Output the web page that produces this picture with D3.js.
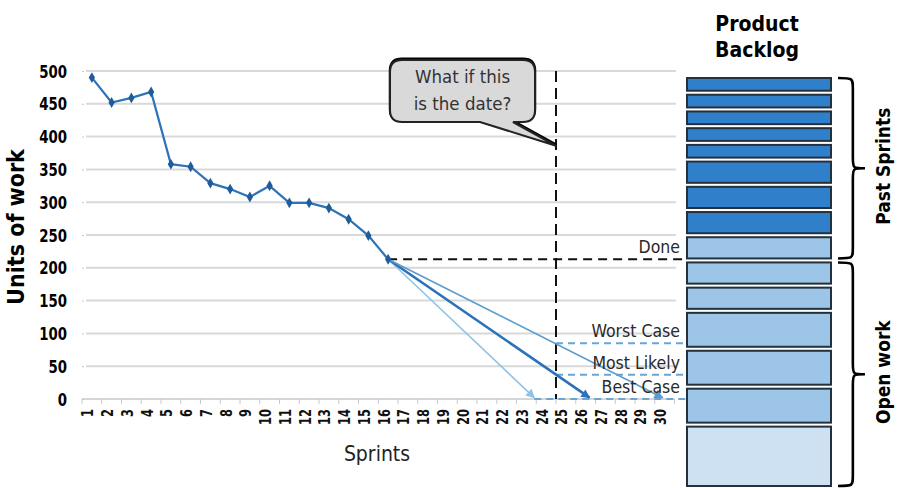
<!DOCTYPE html>
<html>
<head>
<meta charset="utf-8">
<script src="https://cdn.jsdelivr.net/npm/d3@7/dist/d3.min.js"></script>
<style>
  html, body { margin: 0; padding: 0; background: #fff; }
  svg { display: block; }
</style>
</head>
<body>
<svg id="chart" width="903" height="488"></svg>
<script>
// ---- data ----
const sprints = d3.range(1, 31);
const burndown = [490, 452, 459, 468, 358, 354, 329, 320, 308, 325, 299, 299, 291, 274, 249, 213];
const yTicks = [0, 50, 100, 150, 200, 250, 300, 350, 400, 450, 500];

// forecasts start from the last completed sprint
const forecastNames = ["Best Case", "Most Likely", "Worst Case"];
const forecastEndSprint = [23.4, 26.2, 29.9];
const forecastEndValue = [2, 2, 2];
const forecastAtDate = [0, 37, 85];
const targetSprint = 24.5;
const calloutLines = ["What if this", "is the date?"];

// product backlog items (story points) and their state
const backlogPoints = [3, 3, 3, 3, 3, 5, 5, 5, 5, 5, 5, 8, 8, 8, 14];
const backlogState = ["past", "past", "past", "past", "past", "past", "past", "past",
                      "done", "open", "open", "open", "open", "open", "future"];
const backlogGroups = [
  { name: "Past Sprints", first: 0, last: 8 },
  { name: "Open work", first: 9, last: 14 }
];

// ---- styling ----
const cond = "'DejaVu Sans Condensed', 'Liberation Sans Narrow', sans-serif";
const forecastColor = { "Best Case": "#8fc3e6", "Most Likely": "#2c72b8", "Worst Case": "#5a9bcb" };
const forecastWidth = { "Best Case": 1.6, "Most Likely": 2.6, "Worst Case": 1.6 };
const boxFill = { past: "#2f7fca", done: "#9cc5e7", open: "#9cc5e7", future: "#cde1f2" };

const svg = d3.select("#chart");

const x = d3.scaleLinear().domain([0.5, 30.5]).range([82, 674.5]);
const y = d3.scaleLinear().domain([0, 500]).range([399, 71]);

// ---- grid ----
svg.append("g")
  .selectAll("line")
  .data(yTicks.filter(d => d > 0))
  .join("line")
  .attr("x1", 86).attr("x2", 676)
  .attr("y1", d => y(d)).attr("y2", d => y(d))
  .attr("stroke", "#d9d9d9").attr("stroke-width", 2);

// ---- y axis (narrowed bold labels) ----
const yAxis = svg.append("g")
  .attr("transform", `translate(84,0)`)
  .call(d3.axisLeft(y).tickValues(yTicks).tickSize(2).tickFormat(""))
  .call(g => g.select(".domain").remove());
yAxis.selectAll(".tick line").attr("stroke", "#c8c8c8");
svg.append("g")
  .selectAll("text")
  .data(yTicks)
  .join("text")
  .attr("transform", d => `translate(67,${y(d)}) scale(0.8,1)`)
  .attr("text-anchor", "end").attr("dy", "0.36em")
  .attr("font-family", cond).attr("font-weight", "bold")
  .attr("font-size", 18.5).attr("fill", "#000")
  .text(d => d);

svg.append("text")
  .attr("transform", `translate(24,227) rotate(-90)`)
  .attr("text-anchor", "middle")
  .attr("font-family", cond).attr("font-weight", "bold")
  .attr("font-size", 23).attr("fill", "#000")
  .text("Units of work");

// ---- x axis ----
svg.append("line")
  .attr("x1", x(0.5)).attr("x2", x(30.5))
  .attr("y1", y(0)).attr("y2", y(0))
  .attr("stroke", "#c8c8c8").attr("stroke-width", 1.5);
svg.append("g")
  .selectAll("line")
  .data(d3.range(0.5, 31, 1))
  .join("line")
  .attr("x1", d => x(d)).attr("x2", d => x(d))
  .attr("y1", y(0)).attr("y2", y(0) + 5)
  .attr("stroke", "#c8c8c8").attr("stroke-width", 1);
svg.append("g")
  .selectAll("text")
  .data(sprints)
  .join("text")
  .attr("transform", d => `translate(${x(d) - 4},${y(0) + 10}) rotate(-90) scale(0.85,1.05)`)
  .attr("text-anchor", "end")
  .attr("dy", "0.35em")
  .attr("font-family", cond).attr("font-weight", "bold")
  .attr("font-size", 15).attr("fill", "#111")
  .text(d => d);

svg.append("text")
  .attr("x", 377).attr("y", 461)
  .attr("text-anchor", "middle")
  .attr("font-family", cond).attr("font-size", 21).attr("fill", "#222")
  .text("Sprints");

// ---- target date ----
svg.append("line")
  .attr("x1", x(targetSprint)).attr("x2", x(targetSprint))
  .attr("y1", y(500)).attr("y2", y(0))
  .attr("stroke", "#111").attr("stroke-width", 2)
  .attr("stroke-dasharray", "11,6");

// ---- done level ----
const lastSprint = burndown.length;
const lastValue = burndown[lastSprint - 1];
svg.append("line")
  .attr("x1", x(lastSprint)).attr("x2", 686)
  .attr("y1", y(lastValue)).attr("y2", y(lastValue))
  .attr("stroke", "#111").attr("stroke-width", 2)
  .attr("stroke-dasharray", "9,6");

// ---- forecast levels at target date ----
forecastNames.forEach((name, i) => {
  const startX = forecastAtDate[i] === 0 ? x(forecastEndSprint[i]) : x(targetSprint);
  svg.append("line")
    .attr("x1", startX).attr("x2", 686)
    .attr("y1", y(forecastAtDate[i])).attr("y2", y(forecastAtDate[i]))
    .attr("stroke", "#6aa5d6").attr("stroke-width", 1.8)
    .attr("stroke-dasharray", "7,5");
});

// ---- forecast arrows ----
const defs = svg.append("defs");
forecastNames.forEach((name, i) => {
  defs.append("marker")
    .attr("id", "arrow" + i)
    .attr("viewBox", "0 0 10 10")
    .attr("refX", 9).attr("refY", 5)
    .attr("markerWidth", 11).attr("markerHeight", 9)
    .attr("markerUnits", "userSpaceOnUse")
    .attr("orient", "auto")
    .append("path")
    .attr("d", "M0,0 L10,5 L0,10 Z")
    .attr("fill", forecastColor[name]);
});
forecastNames.forEach((name, i) => {
  svg.append("line")
    .attr("x1", x(lastSprint)).attr("y1", y(lastValue))
    .attr("x2", x(forecastEndSprint[i])).attr("y2", y(forecastEndValue[i]))
    .attr("stroke", forecastColor[name])
    .attr("stroke-width", forecastWidth[name])
    .attr("marker-end", `url(#arrow${i})`);
});

// ---- actual burndown ----
const line = d3.line().x((d, i) => x(i + 1)).y(d => y(d));
svg.append("path")
  .datum(burndown)
  .attr("d", line)
  .attr("fill", "none")
  .attr("stroke", "#2e73b6").attr("stroke-width", 2.2);
svg.append("g")
  .selectAll("path")
  .data(burndown)
  .join("path")
  .attr("transform", (d, i) => `translate(${x(i + 1)},${y(d)})`)
  .attr("d", d3.symbol(d3.symbolDiamond, 34))
  .attr("fill", "#1f5c9b");

// ---- level labels ----
const levelLabels = [{ text: "Done", v: lastValue }]
  .concat(forecastNames.map((n, i) => ({ text: n, v: forecastAtDate[i] })));
svg.append("g")
  .selectAll("text")
  .data(levelLabels)
  .join("text")
  .attr("x", 680).attr("y", d => y(d.v) - 6)
  .attr("text-anchor", "end")
  .attr("font-family", cond).attr("font-size", 17.5).attr("fill", "#2a2a2a")
  .text(d => d.text);

// ---- callout ----
const cx0 = 390, cx1 = 535, cy0 = 60, cy1 = 122, r = 12;
const tipX = x(targetSprint), tipY = y(386);
const callout = `M${cx0 + r},${cy0} H${cx1 - r} Q${cx1},${cy0} ${cx1},${cy0 + r} V${cy1 - r} ` +
  `Q${cx1},${cy1} ${cx1 - r},${cy1} H${cx1 - 22} L${tipX},${tipY} L${cx1 - 55},${cy1} ` +
  `H${cx0 + r} Q${cx0},${cy1} ${cx0},${cy1 - r} V${cy0 + r} Q${cx0},${cy0} ${cx0 + r},${cy0} Z`;
svg.append("path")
  .attr("d", callout)
  .attr("transform", "translate(0,-1.2)")
  .attr("fill", "none").attr("stroke", "#000").attr("stroke-width", 2.5);
svg.append("path")
  .attr("d", callout)
  .attr("fill", "#d9d9d9").attr("stroke", "#222").attr("stroke-width", 2);
svg.append("g")
  .selectAll("text")
  .data(calloutLines)
  .join("text")
  .attr("x", (cx0 + cx1) / 2).attr("y", (d, i) => 83 + i * 27)
  .attr("text-anchor", "middle")
  .attr("font-family", cond).attr("font-size", 18.5).attr("fill", "#333")
  .text(d => d);

// ---- product backlog stack ----
const gap = 4, stackTop = 78, stackBottom = 486;
const totalPts = d3.sum(backlogPoints);
const ptScale = d3.scaleLinear()
  .domain([0, totalPts])
  .range([0, stackBottom - stackTop - gap * (backlogPoints.length - 1)]);
let acc = 0;
const boxes = backlogPoints.map((p, i) => {
  const y0 = stackTop + ptScale(acc) + i * gap;
  acc += p;
  return { i, state: backlogState[i], y0, y1: y0 + ptScale(p) };
});
svg.append("g")
  .selectAll("rect")
  .data(boxes)
  .join("rect")
  .attr("x", 687).attr("width", 144)
  .attr("y", d => d.y0).attr("height", d => d.y1 - d.y0)
  .attr("fill", d => boxFill[d.state])
  .attr("stroke", "#23303e").attr("stroke-width", 2);

svg.append("g")
  .selectAll("text")
  .data(["Product", "Backlog"])
  .join("text")
  .attr("x", 757).attr("y", (d, i) => 31 + i * 26)
  .attr("text-anchor", "middle")
  .attr("font-family", cond).attr("font-weight", "bold")
  .attr("font-size", 21).attr("fill", "#000")
  .text(d => d);

// ---- braces ----
function brace(x0, y0, y1, w) {
  const xm = x0 + w * 0.55, ym = (y0 + y1) / 2, c = 11;
  return `M${x0},${y0} C${xm},${y0} ${xm},${y0} ${xm},${y0 + c} ` +
         `L${xm},${ym - c} C${xm},${ym} ${xm},${ym} ${x0 + w},${ym} ` +
         `C${xm},${ym} ${xm},${ym} ${xm},${ym + c} ` +
         `L${xm},${y1 - c} C${xm},${y1} ${xm},${y1} ${x0},${y1}`;
}
backlogGroups.forEach(g => {
  const y0 = boxes[g.first].y0, y1 = boxes[g.last].y1;
  svg.append("path")
    .attr("d", brace(838, y0, y1, 27))
    .attr("fill", "none").attr("stroke", "#000").attr("stroke-width", 2.6);
  svg.append("text")
    .attr("transform", `translate(883,${(y0 + y1) / 2 - 2}) rotate(-90)`)
    .attr("text-anchor", "middle").attr("dy", "0.35em")
    .attr("font-family", cond).attr("font-weight", "bold")
    .attr("font-size", 19).attr("fill", "#000")
    .text(g.name);
});
</script>
</body>
</html>
